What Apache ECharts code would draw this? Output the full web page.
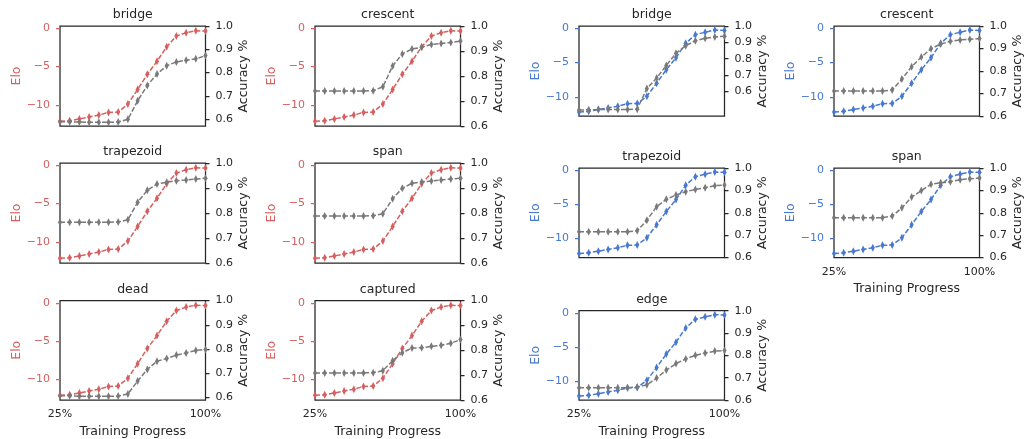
<!DOCTYPE html>
<html>
<head>
<meta charset="utf-8">
<script src="https://cdn.jsdelivr.net/npm/echarts@6/dist/echarts.min.js"></script>
<style>
  html, body { margin: 0; padding: 0; background: #fff; }
  #chart { width: 1025px; height: 439px; }
</style>
</head>
<body>
<div id="chart"></div>
<script>
// training progress (%), one point per checkpoint
var progress = [25, 30, 35, 40, 45, 50, 55, 60, 65, 70, 75, 80, 85, 90, 95, 100];

// Elo of the two models (red = left block, blue = right block)
var eloRed  = [-12.15, -12.1, -11.85, -11.6, -11.35, -11.0, -10.95, -9.9, -8.0, -6.0, -4.3, -2.4, -1.0, -0.55, -0.3, -0.35];
var eloBlue = [-12.2, -12.1, -11.85, -11.6, -11.35, -11.0, -10.95, -9.9, -8.0, -6.05, -4.3, -2.2, -0.95, -0.58, -0.27, -0.32];

// probe accuracy per concept
var accRedBridge    = [0.589, 0.589, 0.588, 0.587, 0.587, 0.587, 0.588, 0.600, 0.679, 0.745, 0.794, 0.830, 0.846, 0.853, 0.859, 0.873];
var accRedCrescent  = [0.740, 0.740, 0.740, 0.740, 0.740, 0.740, 0.741, 0.757, 0.840, 0.888, 0.908, 0.915, 0.926, 0.930, 0.934, 0.940];
var accRedTrapezoid = [0.763, 0.763, 0.763, 0.763, 0.763, 0.763, 0.764, 0.773, 0.843, 0.891, 0.916, 0.923, 0.929, 0.932, 0.936, 0.939];
var accRedSpan      = [0.788, 0.788, 0.788, 0.788, 0.788, 0.788, 0.789, 0.797, 0.857, 0.899, 0.919, 0.924, 0.928, 0.932, 0.936, 0.939];
var accRedDead      = [0.608, 0.607, 0.605, 0.605, 0.605, 0.605, 0.606, 0.615, 0.668, 0.716, 0.750, 0.761, 0.775, 0.784, 0.794, 0.798];
var accRedCaptured  = [0.709, 0.709, 0.709, 0.709, 0.709, 0.709, 0.710, 0.718, 0.758, 0.790, 0.809, 0.810, 0.816, 0.820, 0.828, 0.843];

var accBlueBridge    = [0.486, 0.488, 0.489, 0.489, 0.489, 0.489, 0.492, 0.618, 0.682, 0.759, 0.833, 0.880, 0.910, 0.925, 0.933, 0.937];
var accBlueCrescent  = [0.711, 0.711, 0.711, 0.711, 0.711, 0.711, 0.716, 0.764, 0.819, 0.862, 0.899, 0.920, 0.932, 0.938, 0.941, 0.944];
var accBlueTrapezoid = [0.715, 0.715, 0.715, 0.715, 0.715, 0.715, 0.719, 0.767, 0.827, 0.860, 0.879, 0.894, 0.904, 0.912, 0.921, 0.924];
var accBlueSpan      = [0.778, 0.778, 0.778, 0.778, 0.778, 0.778, 0.785, 0.822, 0.870, 0.899, 0.927, 0.934, 0.939, 0.948, 0.952, 0.955];
var accBlueEdge      = [0.655, 0.655, 0.655, 0.655, 0.655, 0.655, 0.658, 0.668, 0.698, 0.734, 0.763, 0.784, 0.800, 0.810, 0.819, 0.822];

// tick labels
var xTicks   = [25, 100];
var eloTicks = [-10, -5, 0];
var accTicks = [0.6, 0.7, 0.8, 0.9, 1.0];

var FONT = 'DejaVu Sans';
var INK  = '#262626';
var RED  = '#d65f5f', BLUE = '#4878d0', GRAY = '#797979';
var W    = 145.5;

var panels = [
  { name: 'bridge',    elo: eloRed,  acc: accRedBridge,     color: RED,  left: 60,  top: 26,    h: 100, accMin: 0.571 },
  { name: 'crescent',  elo: eloRed,  acc: accRedCrescent,   color: RED,  left: 315, top: 26,    h: 100, accMin: 0.6 },
  { name: 'trapezoid', elo: eloRed,  acc: accRedTrapezoid,  color: RED,  left: 60,  top: 163,   h: 100, accMin: 0.6 },
  { name: 'span',      elo: eloRed,  acc: accRedSpan,       color: RED,  left: 315, top: 163,   h: 100, accMin: 0.6 },
  { name: 'dead',      elo: eloRed,  acc: accRedDead,       color: RED,  left: 60,  top: 300.5, h: 100, accMin: 0.59, xlab: true },
  { name: 'captured',  elo: eloRed,  acc: accRedCaptured,   color: RED,  left: 315, top: 300.5, h: 100, accMin: 0.6,  xlab: true },
  { name: 'bridge',    elo: eloBlue, acc: accBlueBridge,    color: BLUE, left: 579, top: 26,    h: 90,  accMin: 0.45 },
  { name: 'crescent',  elo: eloBlue, acc: accBlueCrescent,  color: BLUE, left: 834, top: 26,    h: 90,  accMin: 0.6 },
  { name: 'trapezoid', elo: eloBlue, acc: accBlueTrapezoid, color: BLUE, left: 579, top: 168,   h: 89.5, accMin: 0.6 },
  { name: 'span',      elo: eloBlue, acc: accBlueSpan,      color: BLUE, left: 834, top: 168,   h: 89.5, accMin: 0.6, xlab: true },
  { name: 'edge',      elo: eloBlue, acc: accBlueEdge,      color: BLUE, left: 579, top: 310.7, h: 89.8, accMin: 0.6, xlab: true }
];

function pairs(ys) {
  return progress.map(function (x, i) { return [x, ys[i]]; });
}

function txt(color, size) {
  return { color: color, fontSize: size || 12.5, fontFamily: FONT };
}

var option = {
  animation: false,
  backgroundColor: '#fff',
  graphic: [],
  grid: [],
  xAxis: [],
  yAxis: [],
  series: []
};

panels.forEach(function (p, i) {
  option.grid.push({
    left: p.left, top: p.top, width: W, height: p.h,
    show: true, borderColor: INK, borderWidth: 1.25, backgroundColor: 'transparent'
  });

  // subplot title
  option.graphic.push({
    type: 'text', x: p.left + W / 2, y: p.top - 11,
    style: { text: p.name, fill: INK, font: '12.5px "DejaVu Sans"', textAlign: 'center', textVerticalAlign: 'middle' }
  });

  option.xAxis.push({
    type: 'value', gridIndex: i, min: 25, max: 100,
    axisLine: { show: false }, axisTick: { show: false }, splitLine: { show: false },
    axisLabel: {
      show: !!p.xlab, customValues: xTicks, showMinLabel: true, showMaxLabel: true,
      formatter: function (v) { return v + '%'; }, margin: 9,
      color: INK, fontSize: 11, fontFamily: FONT
    },
    name: p.xlab ? 'Training Progress' : '',
    nameLocation: 'middle', nameGap: 25, nameTextStyle: txt(INK)
  });

  // left: Elo
  option.yAxis.push({
    type: 'value', gridIndex: i, position: 'left', min: -12.78, max: 0.32,
    axisLine: { show: false }, splitLine: { show: false },
    axisTick: { show: true, customValues: eloTicks, length: 4, lineStyle: { color: p.color, width: 1.25 } },
    axisLabel: {
      customValues: eloTicks, margin: 10, color: p.color, fontSize: 11, fontFamily: FONT,
      formatter: function (v) { return String(v).replace('-', '\u2212'); }
    },
    name: 'Elo', nameLocation: 'middle', nameRotate: 90, nameGap: 37, nameTextStyle: txt(p.color)
  });

  // right: accuracy
  option.yAxis.push({
    type: 'value', gridIndex: i, position: 'right', min: p.accMin, max: 1.0,
    axisLine: { show: false }, splitLine: { show: false },
    axisTick: { show: true, customValues: accTicks, length: 4, lineStyle: { color: INK, width: 1.25 } },
    axisLabel: {
      customValues: accTicks, margin: 10, color: INK, fontSize: 11, fontFamily: FONT,
      formatter: function (v) { return Number(v).toFixed(1); }
    },
    name: 'Accuracy %', nameLocation: 'middle', nameRotate: 90, nameGap: 30, nameTextStyle: txt(INK)
  });

  option.series.push({
    type: 'line', xAxisIndex: i, yAxisIndex: 2 * i, data: pairs(p.elo),
    symbol: 'diamond', symbolSize: [4, 8], showSymbol: true,
    lineStyle: { color: p.color, width: 1.5, type: [5, 2] },
    itemStyle: { color: p.color }, z: 2
  });
  option.series.push({
    type: 'line', xAxisIndex: i, yAxisIndex: 2 * i + 1, data: pairs(p.acc),
    symbol: 'diamond', symbolSize: [4, 8], showSymbol: true,
    lineStyle: { color: GRAY, width: 1.5, type: [5, 2] },
    itemStyle: { color: GRAY }, z: 3
  });
});

var chart = echarts.init(document.getElementById('chart'));
chart.setOption(option);
</script>
</body>
</html>
